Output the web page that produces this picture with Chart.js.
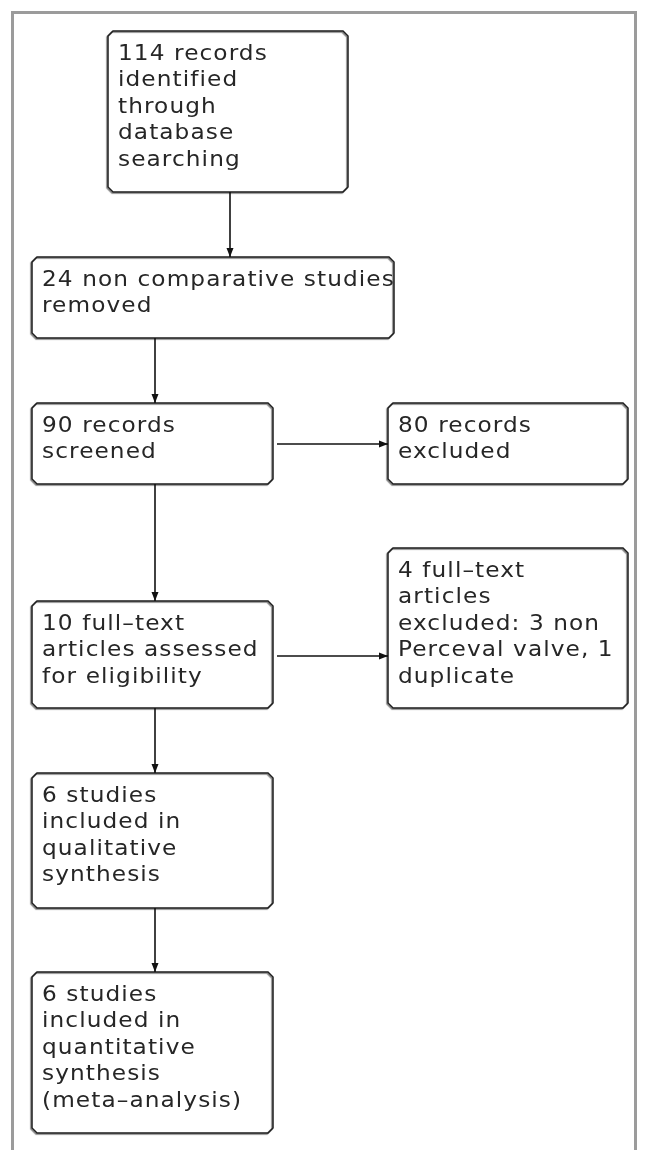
<!DOCTYPE html>
<html>
<head>
<meta charset="utf-8">
<script src="https://cdn.jsdelivr.net/npm/chart.js@4.4.1/dist/chart.umd.min.js"></script>
<style>
  html, body { margin: 0; padding: 0; background: #ffffff; }
  #wrap { position: relative; width: 646px; height: 1150px; overflow: hidden; }
  #frame { position: absolute; left: 11px; top: 11px; width: 620px; height: 1200px;
           border: 3px solid #9b9b9b; border-bottom: none; box-sizing: content-box; }
  canvas { position: absolute; left: 0; top: 0; }
</style>
</head>
<body>
<div id="wrap">
  <div id="frame"></div>
  <canvas id="c" width="646" height="1150"></canvas>
</div>
<script>
// ---- Flowchart content (PRISMA) ----
const boxTexts = [
  ["114 records", "identified", "through", "database", "searching"],
  ["24 non comparative studies", "removed"],
  ["90 records", "screened"],
  ["80 records", "excluded"],
  ["10 full\u2013text", "articles assessed", "for eligibility"],
  ["4 full\u2013text", "articles", "excluded: 3 non", "Perceval valve, 1", "duplicate"],
  ["6 studies", "included in", "qualitative", "synthesis"],
  ["6 studies", "included in", "quantitative", "synthesis", "(meta\u2013analysis)"]
];
// box extents in layout units (left, right, top, bottom)
const boxLeft   = [108, 32, 32, 388, 32, 388, 32, 32];
const boxRight  = [348, 394, 273, 628, 273, 628, 273, 273];
const boxTop    = [31, 257, 403, 403, 601, 548, 773, 972];
const boxBottom = [192, 338, 484, 484, 708, 708, 908, 1133];
// links: from box, to box, direction
const linkFrom = [0, 1, 2, 2, 4, 4, 6];
const linkTo   = [1, 2, 3, 4, 5, 6, 7];
const linkDir  = ["down", "down", "right", "down", "right", "down", "down"];
const linkAt   = [230, 155, 444, 155, 656, 155, 155];

const flowPlugin = {
  id: 'flow',
  afterDatasetsDraw(chart) {
    const ctx = chart.ctx;
    const xs = chart.scales.x, ys = chart.scales.y;
    const px = v => xs.getPixelForValue(v);
    const py = v => ys.getPixelForValue(v);
    ctx.save();
    // boxes
    for (let i = 0; i < boxTexts.length; i++) {
      const x0 = px(boxLeft[i]), x1 = px(boxRight[i]);
      const y0 = py(boxTop[i]), y1 = py(boxBottom[i]);
      const r = 5;
      ctx.beginPath();
      ctx.moveTo(x0 + r, y0);
      ctx.lineTo(x1 - r, y0);
      ctx.lineTo(x1, y0 + r);
      ctx.lineTo(x1, y1 - r);
      ctx.lineTo(x1 - r, y1);
      ctx.lineTo(x0 + r, y1);
      ctx.lineTo(x0, y1 - r);
      ctx.lineTo(x0, y0 + r);
      ctx.closePath();
      ctx.fillStyle = '#ffffff';
      ctx.fill();
      ctx.save();
      ctx.shadowColor = 'rgba(0,0,0,0.55)';
      ctx.shadowOffsetX = -1;
      ctx.shadowOffsetY = 1;
      ctx.shadowBlur = 1;
      ctx.lineWidth = 1.5;
      ctx.strokeStyle = '#1e1e1e';
      ctx.stroke();
      ctx.restore();
      // text
      ctx.fillStyle = '#262626';
      ctx.font = '21.5px "DejaVu Sans", sans-serif';
      ctx.letterSpacing = '1px';
      ctx.textBaseline = 'alphabetic';
      ctx.textAlign = 'left';
      boxTexts[i].forEach((line, k) => {
        ctx.save();
        ctx.translate(x0 + 10, y0 + 28.5 + k * 26.5);
        ctx.scale(1.08, 1);
        ctx.fillText(line, 0, 0);
        ctx.restore();
      });
      ctx.letterSpacing = '0px';
    }
    // arrows
    ctx.strokeStyle = '#111111';
    ctx.fillStyle = '#111111';
    ctx.lineWidth = 1.6;
    for (let j = 0; j < linkFrom.length; j++) {
      const a = linkFrom[j], b = linkTo[j];
      let sx, sy, ex, ey;
      if (linkDir[j] === 'down') {
        sx = ex = px(linkAt[j]);
        sy = py(boxBottom[a]);
        ey = py(boxTop[b]);
      } else {
        sy = ey = py(linkAt[j]);
        sx = px(boxRight[a]) + 4;
        ex = px(boxLeft[b]);
      }
      ctx.beginPath();
      ctx.moveTo(sx, sy);
      ctx.lineTo(ex, ey);
      ctx.stroke();
      ctx.beginPath();
      if (linkDir[j] === 'down') {
        ctx.moveTo(ex, ey);
        ctx.lineTo(ex - 3.5, ey - 9);
        ctx.lineTo(ex + 3.5, ey - 9);
      } else {
        ctx.moveTo(ex, ey);
        ctx.lineTo(ex - 9, ey - 3.5);
        ctx.lineTo(ex - 9, ey + 3.5);
      }
      ctx.closePath();
      ctx.fill();
    }
    ctx.restore();
  }
};

new Chart(document.getElementById('c'), {
  type: 'scatter',
  data: { datasets: [{ data: [], pointRadius: 0 }] },
  options: {
    responsive: false,
    animation: false,
    layout: { padding: 0 },
    plugins: { legend: { display: false }, tooltip: { enabled: false } },
    scales: {
      x: { type: 'linear', min: 0, max: 646, display: false },
      y: { type: 'linear', min: 0, max: 1150, reverse: true, display: false }
    }
  },
  plugins: [flowPlugin]
});
</script>
</body>
</html>
